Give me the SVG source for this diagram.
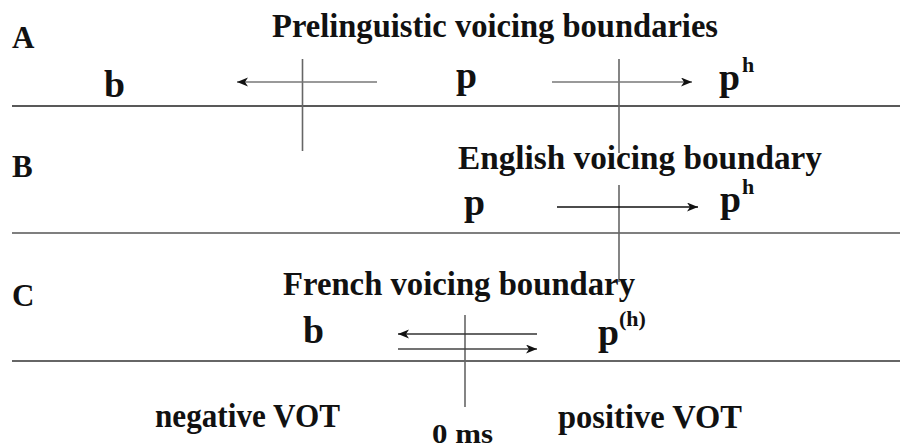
<svg xmlns="http://www.w3.org/2000/svg" width="900" height="448" viewBox="0 0 900 448">
  <defs>
    <marker id="arr" markerUnits="userSpaceOnUse" markerWidth="12" markerHeight="10" refX="11" refY="4.5" orient="auto">
      <path d="M0,0 L11,4.5 L0,9 L3,4.5 z" fill="#111"/>
    </marker>
    <style>
      text { font-family: "Liberation Serif", "Times New Roman", serif; font-weight: bold; fill: #111; }
      .lbl { font-size: 31px; }
      .title { font-size: 34px; }
      .ph { font-size: 38px; }
      .sup { font-size: 22px; }
      .axis { font-size: 33px; }
      .hline { stroke: #222; stroke-width: 1.6; }
      .vline { stroke: #666; stroke-width: 1.6; }
      .arrow { stroke: #333; stroke-width: 1.5; fill: none; marker-end: url(#arr); }
    </style>
  </defs>
  <rect width="900" height="448" fill="#fff"/>

  <g id="connectors">
    <line class="hline" x1="12" y1="106" x2="900" y2="106"/>
    <line class="hline" x1="12" y1="233" x2="900" y2="233" style="stroke:#555"/>
    <line class="hline" x1="12" y1="361" x2="900" y2="361" style="stroke:#333"/>
    <line class="vline" x1="302.5" y1="59" x2="302.5" y2="151"/>
    <line class="vline" x1="619" y1="59" x2="619" y2="153"/>
    <line class="vline" x1="619" y1="185" x2="619" y2="282"/>
    <line class="vline" x1="465" y1="315" x2="465" y2="407"/>
    <line class="arrow" x1="377" y1="82" x2="237" y2="82" style="stroke:#777"/>
    <line class="arrow" x1="552" y1="82" x2="692" y2="82" style="stroke:#777"/>
    <line class="arrow" x1="557" y1="207" x2="698" y2="207" style="stroke:#111"/>
    <line class="arrow" x1="537" y1="334" x2="398" y2="334"/>
    <line class="arrow" x1="398" y1="349" x2="537" y2="349" style="stroke:#444"/>
  </g>

  <g id="panel-A">
    <text class="lbl" x="12" y="48">A</text>
    <text class="title" x="272" y="37" textLength="446" lengthAdjust="spacingAndGlyphs">Prelinguistic voicing boundaries</text>
    <text class="ph" x="104" y="97" textLength="21" lengthAdjust="spacingAndGlyphs">b</text>
    <text class="ph" x="456" y="88" textLength="21" lengthAdjust="spacingAndGlyphs">p</text>
    <text class="ph" x="719" y="90" textLength="21" lengthAdjust="spacingAndGlyphs">p</text>
    <text class="sup" x="742" y="72">h</text>
  </g>

  <g id="panel-B">
    <text class="lbl" x="12" y="177">B</text>
    <text class="title" x="458" y="169" textLength="364" lengthAdjust="spacingAndGlyphs">English voicing boundary</text>
    <text class="ph" x="464" y="215" textLength="21" lengthAdjust="spacingAndGlyphs">p</text>
    <text class="ph" x="720" y="212" textLength="21" lengthAdjust="spacingAndGlyphs">p</text>
    <text class="sup" x="742" y="194">h</text>
  </g>

  <g id="panel-C">
    <text class="lbl" x="12" y="306">C</text>
    <text class="title" x="283" y="295" textLength="352" lengthAdjust="spacingAndGlyphs">French voicing boundary</text>
    <text class="ph" x="303" y="343" textLength="21" lengthAdjust="spacingAndGlyphs">b</text>
    <text class="ph" x="598" y="345" textLength="21" lengthAdjust="spacingAndGlyphs">p</text>
    <text class="sup" x="619" y="326">(h)</text>
  </g>

  <g id="axis">
    <text class="axis" x="155" y="427" textLength="185" lengthAdjust="spacingAndGlyphs">negative VOT</text>
    <text class="axis" x="432" y="443" textLength="61" lengthAdjust="spacingAndGlyphs" style="font-size:28px">0 ms</text>
    <text class="axis" x="558" y="428" textLength="184" lengthAdjust="spacingAndGlyphs">positive VOT</text>
  </g>
</svg>
